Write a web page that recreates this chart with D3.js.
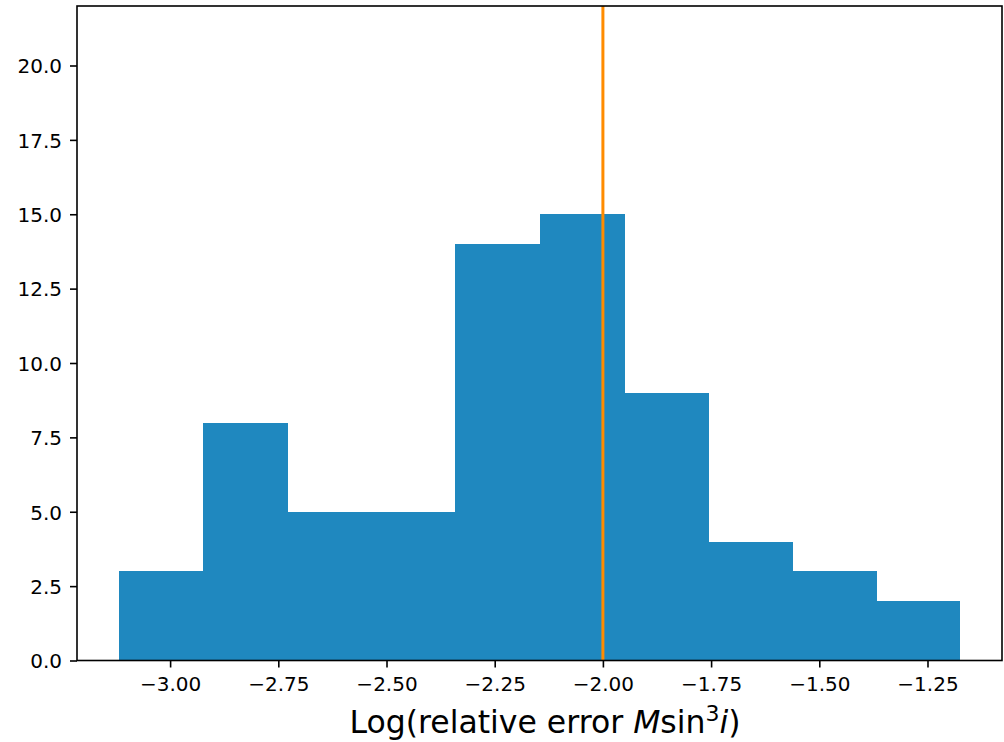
<!DOCTYPE html>
<html>
<head>
<meta charset="utf-8">
<script src="https://cdn.jsdelivr.net/npm/d3@7"></script>
<style>
  html, body { margin: 0; padding: 0; background: #fff; }
  svg { display: block; }
  text { font-family: "DejaVu Sans", sans-serif; fill: #000; }
</style>
</head>
<body>
<svg id="chart" width="1004" height="742"></svg>
<script>
// ---- data ----
const binEdges = [-3.118, -2.924, -2.729, -2.535, -2.341, -2.146, -1.952, -1.758, -1.564, -1.369, -1.175];
const counts = [3, 8, 5, 5, 14, 15, 9, 4, 3, 2];
const xTicks = [-3.00, -2.75, -2.50, -2.25, -2.00, -1.75, -1.50, -1.25];
const yTicks = [0, 2.5, 5, 7.5, 10, 12.5, 15, 17.5, 20];
const refLineX = [-2.00];
const yMax = 22;

// ---- layout ----
const plot = { left: 77, right: 1002, top: 6, bottom: 660.5 };
const svg = d3.select("#chart");

const span = binEdges[binEdges.length - 1] - binEdges[0];
const x = d3.scaleLinear()
  .domain([binEdges[0] - 0.05 * span, binEdges[binEdges.length - 1] + 0.05 * span])
  .range([plot.left, plot.right]);
const y = d3.scaleLinear().domain([0, yMax]).range([plot.bottom, plot.top]);

const bins = counts.map((c, i) => ({ x0: binEdges[i], x1: binEdges[i + 1], c, last: i === counts.length - 1 }));

// bars
svg.append("g").attr("shape-rendering", "crispEdges")
  .selectAll("rect").data(bins).join("rect")
  .attr("x", d => x(d.x0))
  .attr("width", d => x(d.x1) - x(d.x0) + (d.last ? 0 : 1))
  .attr("y", d => y(d.c))
  .attr("height", d => y(0) - y(d.c))
  .attr("fill", "#1f88bf");

// reference line
svg.append("g").selectAll("line").data(refLineX).join("line")
  .attr("x1", d => x(d)).attr("x2", d => x(d))
  .attr("y1", plot.top).attr("y2", plot.bottom)
  .attr("stroke", "#ff8c00").attr("stroke-width", 3);

// axes
const minus = s => s.replace("-", "\u2212");
const xAxis = d3.axisBottom(x).tickValues(xTicks).tickSize(7).tickPadding(7)
  .tickFormat(d => minus(d3.format(".2f")(d)));
const gx = svg.append("g").attr("transform", `translate(0,${plot.bottom})`).call(xAxis);
gx.select(".domain").remove();
gx.selectAll(".tick line").attr("stroke", "#000").attr("stroke-width", 1.6);
gx.selectAll(".tick text").attr("font-size", 20).attr("font-family", "DejaVu Sans").attr("fill", "#000")
  .attr("dy", null).attr("y", 30.5);

const yAxis = d3.axisLeft(y).tickValues(yTicks).tickSize(7).tickPadding(7)
  .tickFormat(d3.format(".1f"));
const gy = svg.append("g").attr("transform", `translate(${plot.left},0)`).call(yAxis);
gy.select(".domain").remove();
gy.selectAll(".tick line").attr("stroke", "#000").attr("stroke-width", 1.6);
gy.selectAll(".tick text").attr("font-size", 20).attr("font-family", "DejaVu Sans").attr("fill", "#000")
  .attr("dy", null).attr("y", 7.3).attr("x", -15);

// frame
svg.append("rect")
  .attr("x", plot.left).attr("y", plot.top)
  .attr("width", plot.right - plot.left).attr("height", plot.bottom - plot.top)
  .attr("fill", "none").attr("stroke", "#000").attr("stroke-width", 1.6);

// x label
const xl = svg.append("text").attr("x", 545).attr("y", 733)
  .attr("text-anchor", "middle").attr("font-size", 31.5);
xl.append("tspan").text("Log(relative error ");
xl.append("tspan").attr("font-style", "italic").text("M");
xl.append("tspan").text("sin");
xl.append("tspan").attr("font-size", 22).attr("dy", -12.5).text("3");
xl.append("tspan").attr("font-style", "italic").attr("dy", 12.5).text("i");
xl.append("tspan").text(")");
</script>
</body>
</html>
